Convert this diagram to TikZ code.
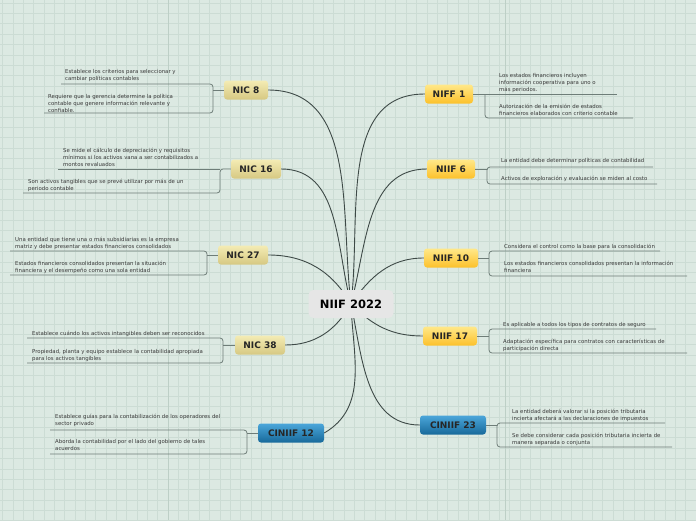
\documentclass[tikz,border=0pt]{standalone}
\usepackage{fontspec}
\setmainfont{DejaVu Sans}
\newfontfamily\leaffam{DejaVu Sans}
\definecolor{bg}{HTML}{DCE9E2}
\definecolor{gridc}{HTML}{CCDCD4}
\definecolor{gridm}{HTML}{BDCFC6}
\definecolor{linec}{HTML}{3E4A47}
\definecolor{brc}{HTML}{6E7D78}
\definecolor{txt}{HTML}{3A3A3A}
\definecolor{nicT}{HTML}{F4ECB4}
\definecolor{nicB}{HTML}{D6C882}
\definecolor{niifT}{HTML}{FFE889}
\definecolor{niifB}{HTML}{FCC12A}
\definecolor{ciT}{HTML}{4BA6DA}
\definecolor{ciB}{HTML}{17699A}
\definecolor{centc}{HTML}{E6E6E6}
\tikzset{
  mainlink/.style={draw=linec, line width=0.9pt},
  brline/.style={draw=brc, line width=0.8pt, rounded corners=3pt},
  topic/.style={rounded corners=3pt, font=\bfseries\fontsize{9}{10}\selectfont, text=black!85, minimum height=19pt, inner xsep=2pt, inner ysep=0pt},
  nic/.style={topic, top color=nicT, bottom color=nicB},
  niif/.style={topic, top color=niifT, bottom color=niifB},
  cin/.style={topic, top color=ciT, bottom color=ciB},
  leaf/.style={anchor=north west, inner sep=0pt, align=left, text=txt, font=\leaffam\fontsize{5.4}{7}\selectfont},
}
\begin{document}
\begin{tikzpicture}[x=1pt,y=-1pt]
\fill[bg] (0,0) rectangle (696,520);
\useasboundingbox (0,0) rectangle (696,520);
\draw[gridc, line width=0.45pt] \foreach \i in {0,...,67} {(2.4+\i*10.35,0) -- (2.4+\i*10.35,520)};
\draw[gridc, line width=0.45pt] \foreach \i in {0,...,50} {(0,3+\i*10.35) -- (696,3+\i*10.35)};
\draw[gridm, line width=0.6pt] (168,0) -- (168,520) (505,0) -- (505,520);

% topic nodes
\node[nic, minimum width=44pt] (nic8) at (246,90) {NIC 8};
\node[nic, minimum width=50pt] (nic16) at (256,169) {NIC 16};
\node[nic, minimum width=50pt] (nic27) at (243,255) {NIC 27};
\node[nic, minimum width=50pt] (nic38) at (260,345) {NIC 38};
\node[cin, minimum width=66pt] (cin12) at (291,433) {CINIIF 12};
\node[niif, minimum width=48pt] (niff1) at (449,94) {NIFF 1};
\node[niif, minimum width=48pt] (niif6) at (451,169) {NIIF 6};
\node[niif, minimum width=54pt] (niif10) at (451,258) {NIIF 10};
\node[niif, minimum width=54pt] (niif17) at (450,336) {NIIF 17};
\node[cin, minimum width=66pt] (cin23) at (453,425) {CINIIF 23};

\coordinate (c) at (351,304);
% main connectors
\draw[mainlink] (c) to[out=97, in=0] (nic8.east);
\draw[mainlink] (c) to[out=105, in=0] (nic16.east);
\draw[mainlink] (c) to[out=120, in=0] (nic27.east);
\draw[mainlink] (c) to[out=-120, in=0] (nic38.east);
\draw[mainlink] (c) to[out=-88, in=30] (cin12.east);
\draw[mainlink] (c) to[out=83, in=180] (niff1.west);
\draw[mainlink] (c) to[out=75, in=180] (niif6.west);
\draw[mainlink] (c) to[out=55, in=180] (niif10.west);
\draw[mainlink] (c) to[out=-45, in=180] (niif17.west);
\draw[mainlink] (c) to[out=-78, in=180] (cin23.west);

\node[fill=centc, rounded corners=5pt, minimum width=85pt, minimum height=28pt, inner sep=0pt, font=\bfseries\fontsize{11.5}{13}\selectfont, text=black] (center) at (351,304) {NIIF 2022};

% left brackets
\draw[brline] (61,84) -- (213,84) -- (213,113) -- (44,113);
\draw[brline] (nic8.west) -- (213,90);
\draw[brline] (nic16.west) -- (220,169) -- (220,193) -- (23,193);
\draw[brline] (58,169) -- (220,169);
\draw[brline] (10,251) -- (207,251) -- (207,275) -- (10,275);
\draw[brline] (nic27.west) -- (207,255);
\draw[brline] (27,338) -- (223,338) -- (223,363) -- (27,363);
\draw[brline] (nic38.west) -- (223,345);
\draw[brline] (50,430) -- (247,430) -- (247,454) -- (50,454);
\draw[brline] (cin12.west) -- (247,433);
% right brackets
\draw[brline] (niff1.east) -- (617,94);
\draw[brline] (485,94) -- (485,118) -- (633,118);
\draw[brline] (653,167) -- (487,167) -- (487,184) -- (657,184);
\draw[brline] (niif6.east) -- (487,169);
\draw[brline] (660,251) -- (489,251) -- (489,276) -- (687,276);
\draw[brline] (niif10.east) -- (489,258);
\draw[brline] (656,329) -- (489,329) -- (489,353) -- (687,353);
\draw[brline] (niif17.east) -- (489,336);
\draw[brline] (665,423) -- (497,423) -- (497,447) -- (672,447);
\draw[brline] (cin23.east) -- (497,425);

% leaf texts
\node[leaf] (t8a) at (65,68.8) {Establece los criterios para seleccionar y\\cambiar políticas contables};
\node[leaf] (t8b) at (48,93.8) {Requiere que la gerencia determine la política\\contable que genere información relevante y\\confiable.};
\node[leaf] (t16a) at (63,147.8) {Se mide el cálculo de depreciación y requisitos\\mínimos si los activos vana a ser contabilizados a\\montos revaluados};
\node[leaf] (t16b) at (28,178.8) {Son activos tangibles que se prevé utilizar por más de un\\periodo contable};
\node[leaf] (t27a) at (15,236.8) {Una entidad que tiene una o más subsidiarias es la empresa\\matriz y debe presentar estados financieros consolidados};
\node[leaf] (t27b) at (15,260.8) {Estados financieros consolidados presentan la situación\\financiera y el desempeño como una sola entidad};
\node[leaf] (t38a) at (32,330.8) {Establece cuándo los activos intangibles deben ser reconocidos};
\node[leaf] (t38b) at (32,348.8) {Propiedad, planta y equipo establece la contabilidad apropiada\\para los activos tangibles};
\node[leaf] (t12a) at (55,413.8) {Establece guías para la contabilización de los operadores del\\sector privado};
\node[leaf] (t12b) at (55,438.8) {Aborda la contabilidad por el lado del gobierno de tales\\acuerdos};
\node[leaf] (t1a) at (499,72.8) {Los estados financieros incluyen\\información cooperativa para uno o\\más periodos.};
\node[leaf] (t1b) at (499,103.8) {Autorización de la emisión de estados\\financieros elaborados con criterio contable};
\node[leaf] (t6a) at (501,157.8) {La entidad debe determinar políticas de contabilidad};
\node[leaf] (t6b) at (501,175.8) {Activos de exploración y evaluación se miden al costo};
\node[leaf] (t10a) at (504,243.8) {Considera el control como la base para la consolidación};
\node[leaf] (t10b) at (504,260.8) {Los estados financieros consolidados presentan la información\\financiera};
\node[leaf] (t17a) at (503,321.8) {Es aplicable a todos los tipos de contratos de seguro};
\node[leaf] (t17b) at (503,338.8) {Adaptación específica para contratos con características de\\participación directa};
\node[leaf] (t23a) at (512,408.8) {La entidad deberá valorar si la posición tributaria\\incierta afectará a las declaraciones de impuestos};
\node[leaf] (t23b) at (512,432.8) {Se debe considerar cada posición tributaria incierta de\\manera separada o conjunta};
\end{tikzpicture}
\end{document}
